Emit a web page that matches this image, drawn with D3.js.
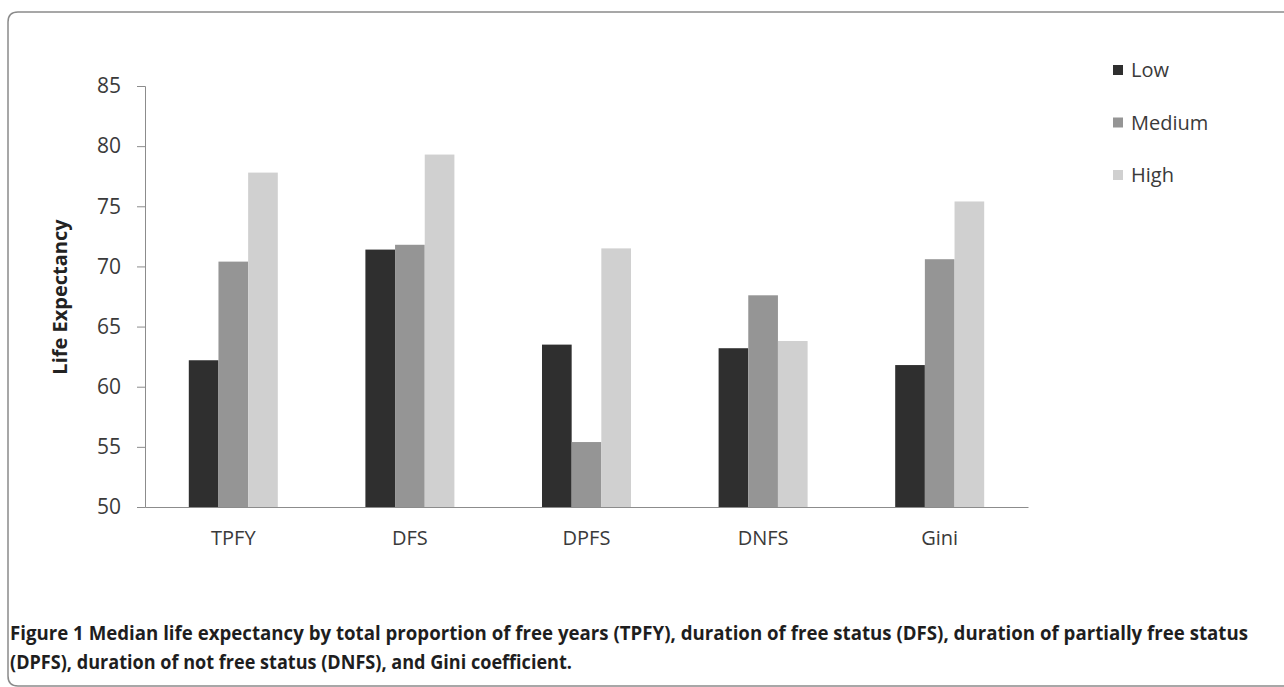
<!DOCTYPE html>
<html>
<head>
<meta charset="utf-8">
<script src="https://cdn.jsdelivr.net/npm/d3@7"></script>
<style>
  body { margin: 0; background: #fff; }
  svg { display: block; }
</style>
</head>
<body>
<svg id="chart"></svg>
<script>
var width = 1284, height = 687;

// data
var categories = ["TPFY", "DFS", "DPFS", "DNFS", "Gini"];
var groups = ["Low", "Medium", "High"];
var low    = [62.2, 71.4, 63.5, 63.2, 61.8];
var medium = [70.4, 71.8, 55.4, 67.6, 70.6];
var high   = [77.8, 79.3, 71.5, 63.8, 75.4];
var yTicks = [50, 55, 60, 65, 70, 75, 80, 85];
var colors = ["#2f2f2f", "#959595", "#d0d0d0"];

var series = [low, medium, high];
var rows = categories.map((c, i) => ({
    cat: c,
    vals: groups.map((g, j) => ({ key: g, value: series[j][i] }))
}));

const svg = d3.select("svg#chart")
    .attr("width", width)
    .attr("height", height);

// frame
svg.append("path")
    .attr("d", "M1290,12 L18,12 Q8,12 8,22 L8,676 Q8,686 18,686 L1290,686")
    .style("fill", "none")
    .style("stroke", "#8a8a8a")
    .style("stroke-width", 1.5);

// scales
var x0 = d3.scaleBand()
    .domain(categories)
    .range([145, 1028]);

var x1 = d3.scaleBand()
    .domain(groups)
    .range([x0.bandwidth() * 0.248, x0.bandwidth() * 0.752]);

var y = d3.scaleLinear()
    .domain([50, 85])
    .range([507, 86]);

var font = "'Open Sans', 'DejaVu Sans', sans-serif";

// y axis
const yAxis = svg.append("g")
    .attr("transform", "translate(145,0)")
    .call(d3.axisLeft(y).tickValues(yTicks).tickSize(8).tickPadding(16));
yAxis.select(".domain").style("stroke", "#8c8c8c");
yAxis.selectAll(".tick line").style("stroke", "#8c8c8c");
yAxis.selectAll(".tick text")
    .style("font-family", font)
    .style("font-size", "21px")
    .style("fill", "#3a3a3a");

// bars
const bars = svg.append("g").attr("id", "bars");
bars.selectAll("g.grp")
    .data(rows)
    .enter().append("g")
    .attr("class", "grp")
    .attr("transform", d => "translate(" + x0(d.cat) + ",0)")
    .selectAll("rect")
    .data(d => d.vals)
    .enter().append("rect")
        .attr("x", d => x1(d.key))
        .attr("width", x1.bandwidth())
        .attr("y", d => y(d.value))
        .attr("height", d => y(50) - y(d.value))
        .style("fill", (d, i) => colors[i]);

// x axis
const xAxis = svg.append("g")
    .attr("transform", "translate(0,507)")
    .call(d3.axisBottom(x0).tickSize(0).tickPadding(24));
xAxis.select(".domain").style("stroke", "#8c8c8c");
xAxis.selectAll(".tick text")
    .style("font-family", font)
    .style("font-size", "20px")
    .style("fill", "#3a3a3a");

// y title
svg.append("text")
    .attr("transform", "translate(67,297) rotate(-90)")
    .attr("text-anchor", "middle")
    .style("font-family", font)
    .style("font-size", "20px")
    .style("font-weight", "bold")
    .style("fill", "#222")
    .text("Life Expectancy");

// legend
const legend = svg.append("g").attr("id", "legend");
var legY = d3.scalePoint().domain(groups).range([70, 175]);
legend.selectAll("rect")
    .data(groups)
    .enter().append("rect")
        .attr("x", 1113)
        .attr("y", d => legY(d) - 5)
        .attr("width", 10)
        .attr("height", 10)
        .style("fill", (d, i) => colors[i]);
legend.selectAll("text")
    .data(groups)
    .enter().append("text")
        .attr("x", 1131)
        .attr("y", d => legY(d))
        .attr("dy", "0.35em")
        .style("font-family", font)
        .style("font-size", "20px")
        .style("fill", "#3a3a3a")
        .text(d => d);

// caption
var capFont = "'Open Sans', 'DejaVu Sans', sans-serif";
svg.append("text")
    .attr("x", 10)
    .attr("y", 640)
    .attr("textLength", 1238)
    .attr("lengthAdjust", "spacingAndGlyphs")
    .style("font-family", capFont)
    .style("font-size", "19px")
    .style("font-weight", "bold")
    .style("fill", "#1e1e1e")
    .text("Figure 1 Median life expectancy by total proportion of free years (TPFY), duration of free status (DFS), duration of partially free status");

svg.append("text")
    .attr("x", 10)
    .attr("y", 669)
    .attr("textLength", 562)
    .attr("lengthAdjust", "spacingAndGlyphs")
    .style("font-family", capFont)
    .style("font-size", "19px")
    .style("font-weight", "bold")
    .style("fill", "#1e1e1e")
    .text("(DPFS), duration of not free status (DNFS), and Gini coefficient.");
</script>
</body>
</html>
